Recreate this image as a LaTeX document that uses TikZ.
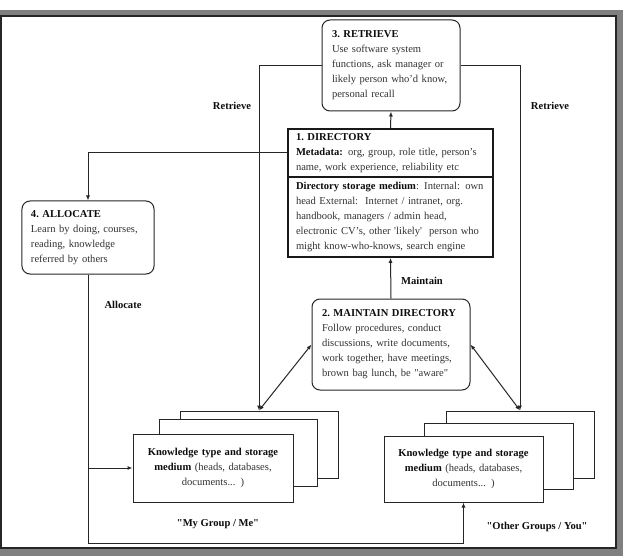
\documentclass[tikz,border=0pt]{standalone}
\usepackage{fontspec}
\setmainfont{Liberation Serif}
\usetikzlibrary{arrows.meta}
\newcommand{\oneline}[1]{\mbox{#1}}
\newcommand{\hdtxt}[1]{{\bfseries\color{black!95}#1}}
\begin{document}
\begin{tikzpicture}[x=1bp,y=-1bp,
  ln/.style={draw=black!85, line width=1bp},
  arr/.style={ln, -{Latex[length=5bp,width=4bp]}},
  darr/.style={ln, {Latex[length=5bp,width=4bp]}-{Latex[length=5bp,width=4bp]}},
  txt/.style={font=\fontsize{10.6}{15}\selectfont, text=black!80},
  lbl/.style={font=\fontsize{10.6}{12}\selectfont\bfseries, text=black!95},
  rbox/.style={txt, ln, rounded corners=8bp, fill=white, align=left, inner ysep=0pt},
  dbox/.style={txt, draw=black!90, line width=1.7bp, fill=white, align=left, inner ysep=0pt},
  sbox/.style={txt, ln, fill=white, align=center, inner sep=0pt}
]
\useasboundingbox (0,0) rectangle (625,560);
% frame
\fill[white] (0,0) rectangle (625,560);
\fill[black!50] (-3,10) rectangle (623,556);
\filldraw[fill=white, draw=black!85, line width=1.2bp] (1,16) rectangle (616,548);

% boxes
\node[rbox, text width=118bp, inner xsep=10bp, minimum width=138bp, minimum height=91bp] (ret) at (391,65.5)
 {\hdtxt{3.\ RETRIEVE}\\\oneline{Use software system}\\\oneline{functions, ask manager or}\\\oneline{likely person who'd know,}\\\oneline{personal recall}};

\node[dbox, text width=189bp, inner xsep=8bp, minimum width=205bp, minimum height=48bp] (dirA) at (390.5,153)
 {\hdtxt{1.\ DIRECTORY}\\\oneline{\hdtxt{Metadata:} org, group, role title, person's}\\\oneline{name, work experience, reliability etc}};
\node[dbox, text width=189bp, inner xsep=8bp, minimum width=205bp, minimum height=80bp] (dirB) at (390.5,217)
 {\oneline{\hdtxt{Directory storage medium}: Internal: own}\\\oneline{head External:\ \ Internet / intranet, org.}\\\oneline{handbook, managers / admin head,}\\\oneline{electronic CV's, other \textquotesingle likely\textquotesingle\ \ person who}\\\oneline{might know-who-knows, search engine}};

\node[rbox, text width=114bp, inner xsep=9bp, minimum width=132bp, minimum height=73bp] (alloc) at (88,237.5)
 {\hdtxt{4.\ ALLOCATE}\\\oneline{Learn by doing, courses,}\\\oneline{reading, knowledge}\\\oneline{referred by others}};

\node[rbox, text width=138bp, inner xsep=10bp, minimum width=158bp, minimum height=91bp] (mnt) at (391,344.5)
 {\oneline{\hdtxt{2.\ MAINTAIN DIRECTORY}}\\\oneline{Follow procedures, conduct}\\\oneline{discussions, write documents,}\\\oneline{work together, have meetings,}\\\oneline{brown bag lunch, be \textquotedbl aware\textquotedbl}};

% left stack
\node[sbox, minimum width=158bp, minimum height=67bp] (lback) at (259,444.5) {};
\node[sbox, minimum width=158bp, minimum height=67bp] (lmid) at (238,452.5) {};
\node[sbox, minimum width=160bp, minimum height=68bp, text width=160bp] (lfront) at (213,468)
 {\hdtxt{Knowledge type and storage}\\\hdtxt{medium} (heads, databases,\\documents... )};
% right stack
\node[sbox, minimum width=148bp, minimum height=67bp] (rback) at (520,444.5) {};
\node[sbox, minimum width=149bp, minimum height=66bp] (rmid) at (498.5,456) {};
\node[sbox, minimum width=159bp, minimum height=66bp, text width=159bp] (rfront) at (463.5,469)
 {\hdtxt{Knowledge type and storage}\\\hdtxt{medium} (heads, databases,\\documents... )};

% connectors
\draw[arr] (dirA.north) -- (ret.south);
\draw[arr] (mnt.north) -- (dirB.south);
\draw[arr] (ret.west) -| (lback.north);
\draw[arr] (ret.east) -| (rback.north);
\draw[darr] (mnt.west) -- (lback.north);
\draw[darr] (mnt.east) -- (rback.north);
\draw[arr] (dirA.west) -| (alloc.north);
\coordinate (bot) at (463.5,543);
\draw[arr] (alloc.south) |- (bot) -- (rfront.south);
\coordinate (br) at (88,468);
\draw[arr] (br) -- (lfront.west);

% labels
\node[lbl] (lr1) at (232,106) {Retrieve};
\node[lbl] (lr2) at (550,106) {Retrieve};
\node[lbl] (lm) at (422,281) {Maintain};
\node[lbl] (la) at (123,305) {Allocate};
\node[lbl] (lg1) at (218,524) {\textquotedbl My Group / Me\textquotedbl};
\node[lbl] (lg2) at (537,527) {\textquotedbl Other Groups / You\textquotedbl};
\end{tikzpicture}
\end{document}
